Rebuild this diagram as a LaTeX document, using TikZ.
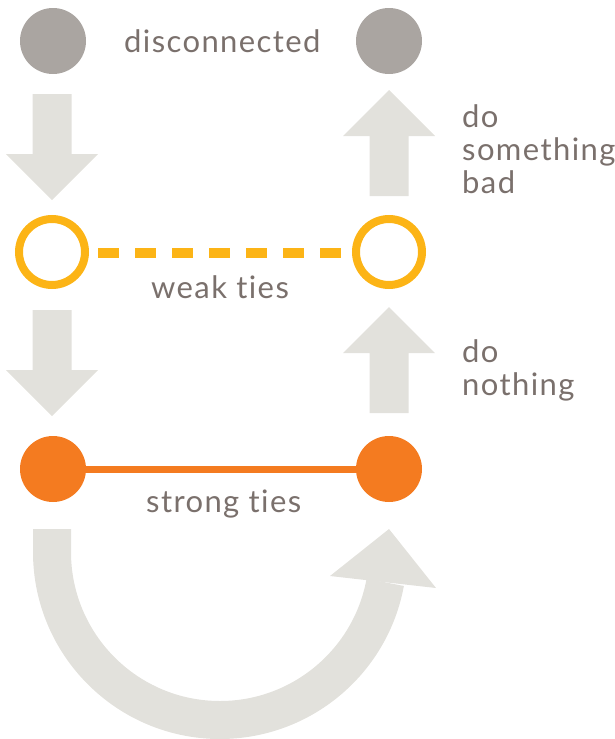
\documentclass[tikz,border=0pt]{standalone}
\usepackage{fontspec}
\setmainfont{Lato}[LetterSpace=4.5,Ligatures={NoCommon}]
\definecolor{txt}{RGB}{122,112,108}
\definecolor{discg}{RGB}{170,165,161}
\definecolor{arrowg}{RGB}{226,225,220}
\definecolor{weakc}{RGB}{252,180,22}
\definecolor{strongc}{RGB}{244,123,32}
\begin{document}
\begin{tikzpicture}[x=1pt,y=-1pt,
  dot/.style={circle,minimum size=66pt,inner sep=0pt},
  lbl/.style={text=txt,font=\fontsize{31}{33}\selectfont,anchor=base west,inner sep=0pt},
  blockarrow/.pic={\fill[arrowg] (0,0) -- (46,46) -- (19.5,46) -- (19.5,106) -- (-19.5,106) -- (-19.5,46) -- (-46,46) -- cycle;}]
\useasboundingbox (0,0) rectangle (614,739);
% nodes
\node[dot,fill=discg] (g1) at (53,41) {};
\node[dot,fill=discg] (g2) at (389,41) {};
\node[dot,draw=weakc,line width=8pt] (w1) at (52,252) {};
\node[dot,draw=weakc,line width=8pt] (w2) at (389,252) {};
\node[dot,fill=strongc] (s1) at (53,469) {};
\node[dot,fill=strongc] (s2) at (389,469) {};
% ties
\draw[weakc,line width=10pt,dash pattern=on 21pt off 16pt] ([xshift=9pt,yshift=-1pt]w1.east) -- ([yshift=-1pt]w2.west);
\draw[strongc,line width=7pt] (s1) -- (s2);
% block arrows
\pic[rotate=180] at (52,200) {blockarrow};
\pic[rotate=180] at (52,416) {blockarrow};
\pic at (389,90) {blockarrow};
\pic at (389,307) {blockarrow};
% curved arrow
\draw[arrowg,line width=38pt] (52,529) -- (52,552) arc[start angle=180,end angle=10.4,radius=168];
\fill[arrowg] (389,529) -- (436,588) -- (330,576) -- cycle;
% labels
\node[lbl] (t1) at (124,52) {disconnected};
\node[lbl] (t2) at (151,298) {weak ties};
\node[lbl] (t3) at (146,512) {strong ties};
\node[lbl] (t4a) at (462,127) {do};
\node[lbl] (t4b) at (462,160) {something};
\node[lbl] (t4c) at (462,193) {bad};
\node[lbl] (t5a) at (462,362) {do};
\node[lbl] (t5b) at (462,395) {nothing};
\end{tikzpicture}
\end{document}
